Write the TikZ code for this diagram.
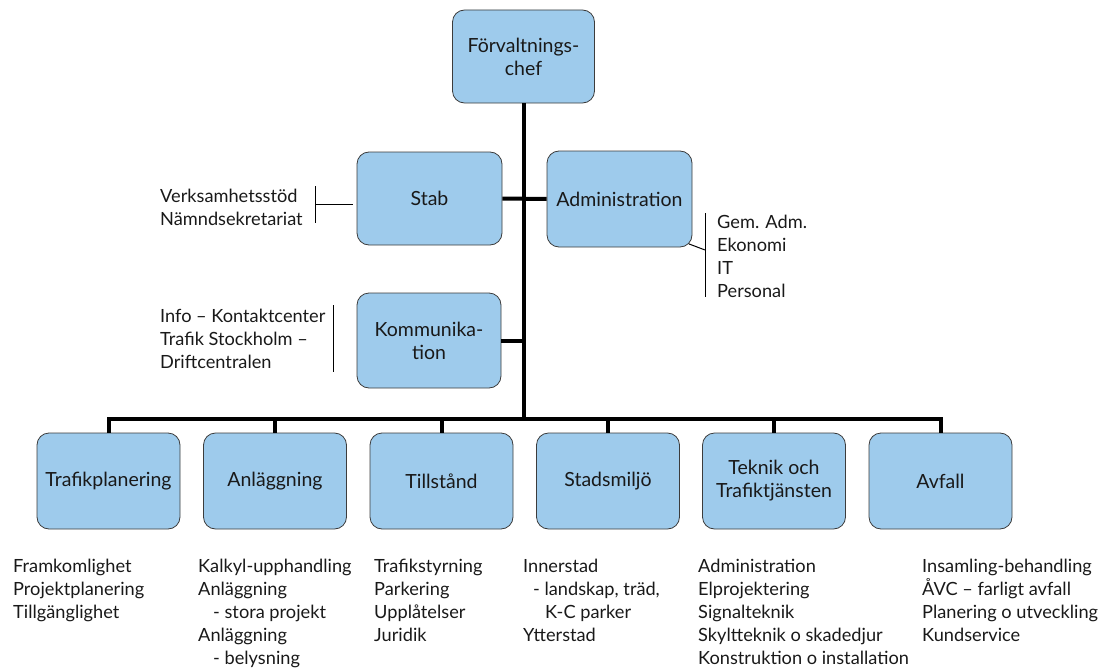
\documentclass[tikz,border=0pt]{standalone}
\usepackage{fontspec}
\setmainfont{Lato}
\definecolor{boxblue}{RGB}{158,203,236}
\definecolor{boxline}{RGB}{60,60,60}
\definecolor{txt}{RGB}{25,25,25}
\newcommand\lstx[1]{\begin{tabular}[t]{@{}l@{}}#1\end{tabular}}
\begin{document}
\begin{tikzpicture}[x=1pt,y=-1pt,
  unit/.style={draw=boxline, fill=boxblue, rounded corners=12pt, line width=0.8pt,
    minimum width=143pt, minimum height=96pt, align=center,
    font=\fontsize{19.5}{23}\selectfont, text=txt, inner sep=2pt},
  list/.style={anchor=base west, font=\fontsize{18.2}{23}\selectfont,
    text=txt, inner sep=0pt},
  trunk/.style={line width=4pt, draw=black, line join=miter},
  thin/.style={line width=1pt, draw=black}]
\useasboundingbox (0,0) rectangle (1101,669);

% boxes
\node[unit, minimum width=142pt, minimum height=93pt] (chef) at (523.5,56.5) {Förvaltnings-\\chef};
\node[unit, minimum width=145pt, minimum height=93pt] (stab) at (429.5,198.5) {Stab};
\node[unit, minimum width=145pt, minimum height=96pt] (admin) at (619.5,199) {Administration};
\node[unit, minimum width=144pt, minimum height=95pt] (komm) at (429,340.5) {Kommunika-\\tion};

\node[unit] (b1) at (108.5,481) {Trafikplanering};
\node[unit] (b2) at (275,481) {Anläggning};
\node[unit] (b3) at (441.5,481) {Tillstånd};
\node[unit] (b4) at (608,481) {Stadsmiljö};
\node[unit] (b5) at (774,481) {Teknik och\\Trafiktjänsten};
\node[unit] (b6) at (940.5,481) {Avfall};

% trunk lines
\coordinate (bus) at (523,419);
\draw[trunk] (chef.south) -- (chef.south |- bus);
\draw[trunk] (b1.north) -- (b1.north |- bus) -- (b6.north |- bus) -- (b6.north);
\draw[trunk] (b2.north) -- (b2.north |- bus);
\draw[trunk] (b3.north) -- (b3.north |- bus);
\draw[trunk] (b4.north) -- (b4.north |- bus);
\draw[trunk] (b5.north) -- (b5.north |- bus);
\draw[trunk] (stab.east) -- (admin.west);
\draw[trunk] (komm.east) -- (komm.east -| chef.south);

% side lists
\node[list] (ls) at (160,202) {\lstx{Verksamhetsstöd\\Nämndsekretariat}};
\coordinate (sbt) at (315,186);
\coordinate (sbb) at (315,223);
\coordinate (sbm) at (315,204);
\draw[thin] (sbt) -- (sbb);
\draw[thin] (sbm) -- ([xshift=-4pt]stab.west |- sbm);

\node[list] (la) at (717,228) {\lstx{Gem. Adm.\\Ekonomi\\IT\\Personal}};
\coordinate (abt) at (705,213);
\coordinate (abb) at (705,297);
\coordinate (abm) at (705,250);
\draw[thin] (abt) -- (abb);
\draw[thin] ([shift={(-3.5,-3.5)}]admin.south east) -- (abm);

\node[list] (lk) at (160,322) {\lstx{Info – Kontaktcenter\\Trafik Stockholm –\\Driftcentralen}};
\coordinate (kbt) at (333,305);
\coordinate (kbb) at (333,372);
\draw[thin] (kbt) -- (kbb);

% bottom lists
\node[list] (l1) at (13,572) {\lstx{Framkomlighet\\Projektplanering\\Tillgänglighet}};
\node[list] (l2) at (198,572) {\lstx{Kalkyl-upphandling\\Anläggning\\\hspace{15pt}- stora projekt\\Anläggning\\\hspace{15pt}- belysning}};
\node[list] (l3) at (374,572) {\lstx{Trafikstyrning\\Parkering\\Upplåtelser\\Juridik}};
\node[list] (l4) at (523,572) {\lstx{Innerstad\\\hspace{10pt}- landskap, träd,\\\hspace{22pt}K-C parker\\Ytterstad}};
\node[list] (l5) at (698,572) {\lstx{Administration\\Elprojektering\\Signalteknik\\Skyltteknik o skadedjur\\Konstruktion o installation}};
\node[list] (l6) at (922,572) {\lstx{Insamling-behandling\\ÅVC – farligt avfall\\Planering o utveckling\\Kundservice}};
\end{tikzpicture}
\end{document}
